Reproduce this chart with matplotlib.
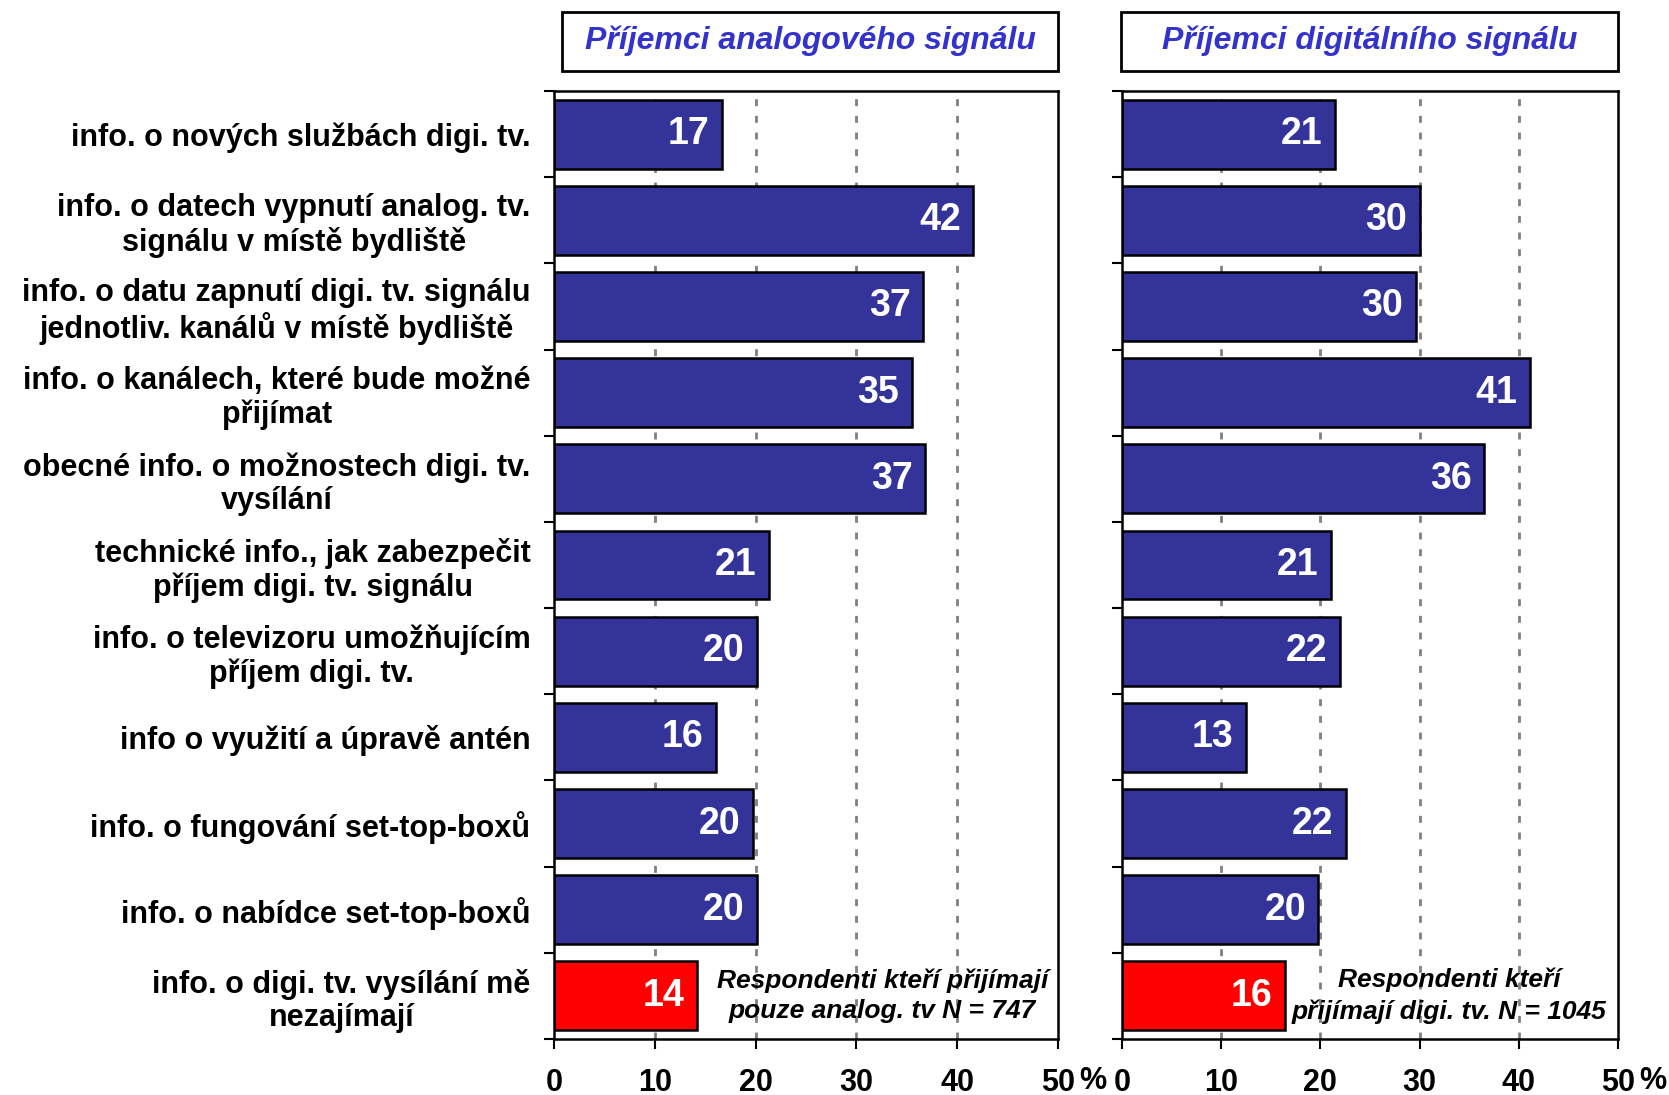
import matplotlib.pyplot as plt
from matplotlib.patches import Rectangle
from matplotlib import font_manager

categories = [
    "info. o nových službách digi. tv.",
    "info. o datech vypnutí analog. tv.\nsignálu v místě bydliště",
    "info. o datu zapnutí digi. tv. signálu\njednotliv. kanálů v místě bydliště",
    "info. o kanálech, které bude možné\npřijímat",
    "obecné info. o možnostech digi. tv.\nvysílání",
    "technické info., jak zabezpečit\npříjem digi. tv. signálu",
    "info. o televizoru umožňujícím\npříjem digi. tv.",
    "info o využití a úpravě antén",
    "info. o fungování set-top-boxů",
    "info. o nabídce set-top-boxů",
    "info. o digi. tv. vysílání mě\nnezajímají",
]
analog = [16.7, 41.6, 36.6, 35.5, 36.8, 21.3, 20.1, 16.1, 19.7, 20.1, 14.2]
analog_labels = [17, 42, 37, 35, 37, 21, 20, 16, 20, 20, 14]
digital = [21.5, 30.0, 29.6, 41.1, 36.5, 21.1, 22.0, 12.5, 22.6, 19.8, 16.4]
digital_labels = [21, 30, 30, 41, 36, 21, 22, 13, 22, 20, 16]
titles = ["Příjemci analogového signálu", "Příjemci digitálního signálu"]
notes = ["Respondenti kteří přijímají\npouze analog. tv N = 747",
         "Respondenti kteří\npřijímají digi. tv. N = 1045"]
note_x = [32.6, 33.0]
xticks = [0, 10, 20, 30, 40, 50]

plt.rcParams['font.family'] = ['Liberation Sans', 'DejaVu Sans']
names = {f.name for f in font_manager.fontManager.ttflist}
narrow = 'Liberation Sans Narrow' if 'Liberation Sans Narrow' in names else 'Liberation Sans'

navy = '#333399'
colors = [navy] * (len(categories) - 1) + ['#ff0000']

fig = plt.figure(figsize=(16.69, 10.95), dpi=100)
W, H = 1669, 1095
ax1 = fig.add_axes([554 / W, 56 / H, 504 / W, 948 / H])
ax2 = fig.add_axes([1122 / W, 56 / H, 496 / W, 948 / H])
box_x = [562, 1121]
box_w = [496, 497]

n = len(categories)
ypos = list(range(n))

for i, (ax, vals, labs) in enumerate([(ax1, analog, analog_labels), (ax2, digital, digital_labels)]):
    ax.barh(ypos, vals, height=0.8, color=colors, edgecolor='black', linewidth=1.8, zorder=2)
    for y, v, t in zip(ypos, vals, labs):
        ax.annotate(str(t), xy=(v, y), xytext=(-9, 0), textcoords='offset points',
                    ha='right', va='center', color='white', fontsize=27,
                    fontweight='bold', family=[narrow, 'DejaVu Sans'], zorder=3)
    ax.set_xlim(0, 50)
    ax.set_ylim(n - 0.5, -0.5)
    ax.set_xticks(xticks)
    ax.set_xticklabels([str(t) for t in xticks], fontsize=22, fontweight='bold')
    ax.tick_params(axis='x', length=7, width=1.5, direction='out', pad=14)
    ax.set_yticks(ypos)
    ax.set_yticks([k - 0.5 for k in range(n + 1)], minor=True)
    ax.tick_params(axis='y', which='major', length=0, pad=17)
    ax.tick_params(axis='y', which='minor', length=7, width=1.5, direction='out')
    if i == 0:
        ax.set_yticklabels(categories, fontsize=22, fontweight='bold')
        for lbl in ax.get_yticklabels():
            lbl.set_multialignment('center')
            lbl.set_linespacing(1.15)
    else:
        ax.set_yticklabels([])
    for x in xticks[1:-1]:
        ax.axvline(x, color='#808080', linestyle=(0, (2.5, 3.5)), linewidth=2, zorder=1)
    for sp in ax.spines.values():
        sp.set_linewidth(1.8)
        sp.set_color('black')
    ax.annotate('%', xy=(50, 0), xycoords=('data', 'axes fraction'), xytext=(25, -30),
                textcoords='offset points', ha='center', va='center', fontsize=22,
                fontweight='bold')
    ax.text(note_x[i], n - 1, notes[i], ha='center', va='center', fontsize=19,
            fontweight='bold', fontstyle='italic', zorder=3, linespacing=1.35)

    # title box above each panel
    x0 = box_x[i] / W
    y0 = (H - 70.7) / H
    fig.patches.append(Rectangle((x0, y0), box_w[i] / W, 59 / H, transform=fig.transFigure,
                                 facecolor='white', edgecolor='black', linewidth=2))
    fig.text(x0 + box_w[i] / W / 2, y0 + 29.5 / H, titles[i], ha='center', va='center',
             fontsize=23, fontweight='bold', fontstyle='italic', color='#3333cc')

fig.savefig('out.png', dpi=100)
